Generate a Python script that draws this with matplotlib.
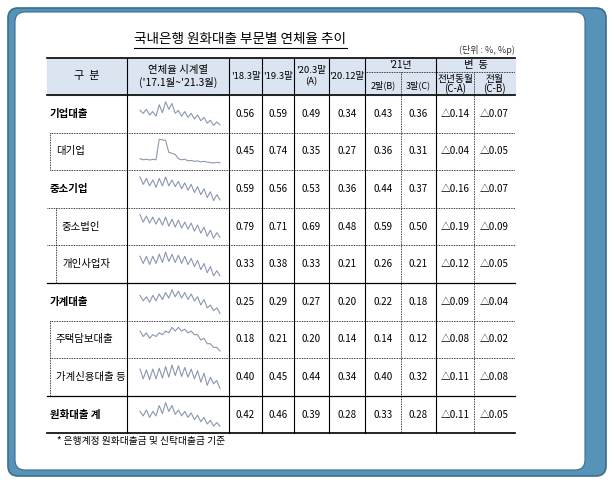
import matplotlib.pyplot as plt
from matplotlib.patches import Rectangle, FancyBboxPatch

plt.rcParams['font.family'] = ['Noto Sans CJK KR', 'DejaVu Sans']

W, H = 615, 497

title = "국내은행 원화대출 부문별 연체율 추이"
unit = "(단위 : %, %p)"
note = "* 은행계정 원화대출금 및 신탁대출금 기준"

row_labels = ["기업대출", "대기업", "중소기업", "중소법인", "개인사업자",
              "가계대출", "주택담보대출", "가계신용대출 등", "원화대출 계"]
row_indent = [0, 1, 0, 2, 2, 0, 1, 1, 0]
values = [
    ["0.56", "0.59", "0.49", "0.34", "0.43", "0.36", "△0.14", "△0.07"],
    ["0.45", "0.74", "0.35", "0.27", "0.36", "0.31", "△0.04", "△0.05"],
    ["0.59", "0.56", "0.53", "0.36", "0.44", "0.37", "△0.16", "△0.07"],
    ["0.79", "0.71", "0.69", "0.48", "0.59", "0.50", "△0.19", "△0.09"],
    ["0.33", "0.38", "0.33", "0.21", "0.26", "0.21", "△0.12", "△0.05"],
    ["0.25", "0.29", "0.27", "0.20", "0.22", "0.18", "△0.09", "△0.04"],
    ["0.18", "0.21", "0.20", "0.14", "0.14", "0.12", "△0.08", "△0.02"],
    ["0.40", "0.45", "0.44", "0.34", "0.40", "0.32", "△0.11", "△0.08"],
    ["0.42", "0.46", "0.39", "0.28", "0.33", "0.28", "△0.11", "△0.05"],
]

# sparkline series (estimated, coarse)
spark = [
    [0.60, 0.55, 0.62, 0.52, 0.58, 0.50, 0.70, 0.56, 0.75, 0.62, 0.72, 0.55, 0.60, 0.50, 0.58, 0.48, 0.55, 0.45, 0.52, 0.42, 0.48, 0.38, 0.43, 0.34, 0.40, 0.35],
    [0.50, 0.45, 0.48, 0.44, 0.47, 0.45, 1.40, 1.38, 1.35, 0.80, 0.75, 0.70, 0.50, 0.45, 0.48, 0.40, 0.42, 0.38, 0.40, 0.35, 0.38, 0.34, 0.32, 0.30, 0.33, 0.31],
    [0.68, 0.58, 0.66, 0.56, 0.64, 0.54, 0.66, 0.56, 0.68, 0.56, 0.64, 0.55, 0.62, 0.52, 0.60, 0.50, 0.58, 0.47, 0.55, 0.44, 0.52, 0.40, 0.48, 0.36, 0.44, 0.37],
    [0.95, 0.80, 0.92, 0.78, 0.90, 0.76, 0.88, 0.74, 0.90, 0.72, 0.86, 0.70, 0.84, 0.68, 0.80, 0.66, 0.78, 0.62, 0.74, 0.58, 0.70, 0.52, 0.64, 0.48, 0.59, 0.50],
    [0.40, 0.33, 0.40, 0.32, 0.40, 0.33, 0.42, 0.34, 0.44, 0.35, 0.42, 0.34, 0.41, 0.33, 0.40, 0.32, 0.38, 0.30, 0.36, 0.27, 0.33, 0.24, 0.30, 0.21, 0.26, 0.21],
    [0.29, 0.25, 0.28, 0.24, 0.29, 0.25, 0.30, 0.26, 0.31, 0.27, 0.33, 0.28, 0.32, 0.27, 0.31, 0.26, 0.30, 0.25, 0.28, 0.22, 0.26, 0.20, 0.22, 0.18, 0.20, 0.16],
    [0.22, 0.19, 0.21, 0.18, 0.20, 0.19, 0.21, 0.20, 0.22, 0.21, 0.24, 0.22, 0.24, 0.22, 0.23, 0.21, 0.22, 0.20, 0.20, 0.17, 0.18, 0.15, 0.15, 0.13, 0.13, 0.11],
    [0.50, 0.38, 0.49, 0.37, 0.50, 0.38, 0.51, 0.39, 0.53, 0.40, 0.55, 0.42, 0.54, 0.41, 0.52, 0.40, 0.50, 0.38, 0.48, 0.34, 0.45, 0.30, 0.40, 0.32, 0.36, 0.26],
    [0.48, 0.42, 0.50, 0.40, 0.48, 0.42, 0.56, 0.45, 0.60, 0.48, 0.56, 0.44, 0.50, 0.42, 0.48, 0.40, 0.46, 0.37, 0.43, 0.34, 0.40, 0.31, 0.36, 0.28, 0.33, 0.28],
]

fig = plt.figure(figsize=(6.15, 4.97), dpi=100)
ax = fig.add_axes([0, 0, 1, 1])
ax.set_xlim(0, W)
ax.set_ylim(H, 0)
ax.axis("off")

# blue rounded frame with white inner panel
ax.add_patch(FancyBboxPatch((8, 8), 598, 468, boxstyle="round,pad=0,rounding_size=10",
                            fc="#5793b8", ec="#3a6e8e", lw=1.2, zorder=0))
ax.add_patch(FancyBboxPatch((15, 12), 570, 458, boxstyle="round,pad=0,rounding_size=10",
                            fc="white", ec="#3a6e8e", lw=0.8, zorder=0.5))

cols = [47, 127, 229, 262, 294, 329, 365, 401, 436, 474, 515]
rows = [95 + 37.6 * i for i in range(10)]
top = 58

ax.add_patch(Rectangle((cols[0], top), cols[-1] - cols[0], rows[0] - top, color="#dbe5f1", zorder=1))

ax.text(240, 39, title, ha="center", va="center", fontsize=9.8, zorder=3)
ax.plot([134, 347], [48, 48], color="black", lw=0.8, zorder=3)
ax.text(515, 50, unit, ha="right", va="center", fontsize=6.5, color="#333333", zorder=3)

# header
hy = (top + rows[0]) / 2
ax.text(87, hy, "구  분", ha="center", va="center", fontsize=8, zorder=3)
ax.text(178, hy, "연체율 시계열\n('17.1월~'21.3월)", ha="center", va="center", fontsize=7.5, linespacing=1.1, zorder=3)
for i, h in enumerate(["'18.3말", "'19.3말", "'20.3말\n(A)", "'20.12말"]):
    ax.text((cols[i + 2] + cols[i + 3]) / 2, hy, h, ha="center", va="center", fontsize=6.8, linespacing=1.3, zorder=3)
ax.text((cols[6] + cols[8]) / 2, 65, "'21년", ha="center", va="center", fontsize=7, zorder=3)
ax.text((cols[6] + cols[7]) / 2, 85, "2말(B)", ha="center", va="center", fontsize=6.5, zorder=3)
ax.text((cols[7] + cols[8]) / 2, 85, "3말(C)", ha="center", va="center", fontsize=6.5, zorder=3)
ax.text((cols[8] + cols[10]) / 2, 65, "변  동", ha="center", va="center", fontsize=7.5, zorder=3)
ax.text((cols[8] + cols[9]) / 2, 84, "전년동월\n(C-A)", ha="center", va="center", fontsize=7, linespacing=0.95, zorder=3)
ax.text((cols[9] + cols[10]) / 2, 84, "전월\n(C-B)", ha="center", va="center", fontsize=7, linespacing=0.95, zorder=3)

# body
for r, lab in enumerate(row_labels):
    cy = (rows[r] + rows[r + 1]) / 2
    lx = cols[0] + 3 + row_indent[r] * 6
    bold = "bold" if row_indent[r] == 0 else "normal"
    ax.text(lx, cy, lab, ha="left", va="center", fontsize=7.5, fontweight=bold, zorder=3)
    for c, v in enumerate(values[r]):
        ax.text((cols[c + 2] + cols[c + 3]) / 2, cy, v, ha="center", va="center", fontsize=7, zorder=3)
    sax = fig.add_axes([136 / W, 1 - (rows[r + 1] - 6) / H, 88 / W, 26 / H])
    sax.plot(range(len(spark[r])), spark[r], color="#8a97b0", lw=0.8)
    sax.axis("off")

# horizontal lines
solid_rows = {0, 5, 8, 9}
ax.plot([cols[0], cols[-1]], [top, top], color="black", lw=1.2, zorder=2)
for i, y in enumerate(rows):
    if i in solid_rows:
        ax.plot([cols[0], cols[-1]], [y, y], color="black", lw=1.2 if i in (0, 9) else 0.9, zorder=2)
    else:
        x0 = cols[0] + (3 if i in (1, 2, 6, 7) else 0)
        ax.plot([x0, cols[-1]], [y, y], color="black", lw=0.6, ls=(0, (1, 1)), zorder=2)
ax.plot([cols[6], cols[10]], [72, 72], color="black", lw=0.6, ls=(0, (1, 1)), zorder=2)

# vertical lines
for x in cols[1:-1]:
    if x in (cols[7], cols[9]):
        ax.plot([x, x], [72, rows[-1]], color="black", lw=0.6, ls=(0, (1, 1)), zorder=2)
    else:
        ax.plot([x, x], [top, rows[-1]], color="black", lw=0.8, zorder=2)
# indent guides
ax.plot([cols[0] + 3, cols[0] + 3], [rows[1], rows[2]], color="black", lw=0.6, ls=(0, (1, 1)))
ax.plot([cols[0] + 9, cols[0] + 9], [rows[3], rows[5]], color="black", lw=0.6, ls=(0, (1, 1)))
ax.plot([cols[0] + 3, cols[0] + 3], [rows[6], rows[8]], color="black", lw=0.6, ls=(0, (1, 1)))

ax.text(cols[0] + 10, 441, note, ha="left", va="center", fontsize=7, zorder=3)

fig.savefig("out.png", dpi=100)
